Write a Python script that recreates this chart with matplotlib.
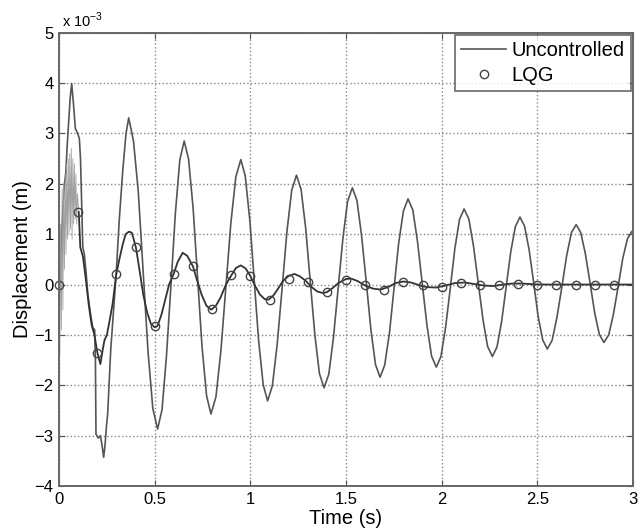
import numpy as np
import matplotlib
matplotlib.use("Agg")
from matplotlib import pyplot as plt

plt.rcParams['font.family'] = ['Liberation Sans', 'DejaVu Sans']

# uncontrolled response (x 1e-3 m)
unc_t = [0.000, 0.010, 0.020, 0.028, 0.035, 0.042, 0.050, 0.058, 0.066, 0.075,
         0.085, 0.097, 0.106, 0.112, 0.118, 0.124, 0.132, 0.142, 0.150, 0.165,
         0.176, 0.186, 0.190, 0.193, 0.205, 0.216, 0.225, 0.233, 0.240, 0.248,
         0.254, 0.270, 0.298, 0.315, 0.333, 0.350, 0.364,
         0.389, 0.414, 0.440, 0.465, 0.490, 0.515,
         0.538, 0.561, 0.585, 0.608, 0.631, 0.654,
         0.677, 0.701, 0.724, 0.747, 0.771, 0.794,
         0.820, 0.846, 0.872, 0.898, 0.924, 0.950,
         0.973, 0.997, 1.020, 1.043, 1.067, 1.090,
         1.115, 1.140, 1.166, 1.191, 1.216, 1.241,
         1.265, 1.289, 1.313, 1.337, 1.361, 1.385,
         1.410, 1.434, 1.459, 1.484, 1.508, 1.533,
         1.557, 1.581, 1.606, 1.630, 1.654, 1.678,
         1.702, 1.727, 1.751, 1.775, 1.800, 1.824,
         1.849, 1.873, 1.898, 1.923, 1.947, 1.972,
         1.996, 2.020, 2.045, 2.069, 2.093, 2.117,
         2.142, 2.166, 2.191, 2.216, 2.240, 2.265,
         2.289, 2.313, 2.337, 2.361, 2.385, 2.409,
         2.433, 2.457, 2.481, 2.504, 2.528, 2.552,
         2.577, 2.602, 2.628, 2.653, 2.678, 2.703,
         2.727, 2.751, 2.776, 2.800, 2.824, 2.848,
         2.873, 2.897, 2.922, 2.946, 2.971, 2.995, 3.000]
unc_v = [0.00, 0.60, 1.50, 2.00, 2.20, 2.73, 3.20, 3.70, 3.99, 3.60,
         3.10, 3.00, 2.90, 2.50, 1.60, 0.75, 0.60, 0.20, -0.18, -0.60,
         -0.85, -0.90, -1.50, -2.97, -3.05, -3.00, -3.20, -3.43, -3.20, -2.80,
         -2.57, -1.30, 0.18, 1.30, 2.27, 3.00, 3.31,
         2.85, 1.85, 0.22, -1.33, -2.46, -2.87,
         -2.49, -1.44, -0.01, 1.42, 2.47, 2.85,
         2.49, 1.50, 0.14, -1.22, -2.21, -2.57,
         -2.23, -1.31, -0.05, 1.22, 2.14, 2.48,
         2.16, 1.28, 0.09, -1.11, -1.99, -2.31,
         -2.01, -1.19, -0.07, 1.05, 1.87, 2.17,
         1.89, 1.12, 0.06, -1.00, -1.77, -2.05,
         -1.78, -1.06, -0.07, 0.93, 1.65, 1.92,
         1.67, 0.98, 0.04, -0.90, -1.59, -1.84,
         -1.60, -0.96, -0.07, 0.82, 1.46, 1.70,
         1.48, 0.87, 0.03, -0.81, -1.42, -1.64,
         -1.43, -0.86, -0.07, 0.72, 1.29, 1.50,
         1.30, 0.77, 0.04, -0.70, -1.23, -1.43,
         -1.24, -0.74, -0.05, 0.65, 1.15, 1.34,
         1.16, 0.69, 0.03, -0.63, -1.10, -1.28,
         -1.11, -0.66, -0.05, 0.57, 1.03, 1.19,
         1.03, 0.61, 0.02, -0.57, -0.99, -1.15,
         -1.00, -0.60, -0.05, 0.51, 0.91, 1.06, 1.06]

# LQG response: noisy start, then smooth decay
lqg_noise_t = [0.000, 0.004, 0.008, 0.012, 0.016, 0.020, 0.024, 0.028, 0.032, 0.036,
               0.040, 0.044, 0.048, 0.052, 0.056, 0.060, 0.064, 0.068, 0.072, 0.076,
               0.080, 0.084, 0.088, 0.092, 0.096, 0.103]
lqg_noise_v = [0.0, -1.4, 1.2, -0.9, 1.9, -0.5, 2.0, 0.3, 2.2, 0.6,
               2.4, 0.9, 2.5, 1.0, 2.6, 1.1, 2.7, 0.9, 2.5, 1.2,
               2.4, 1.3, 2.2, 1.2, 1.8, 1.44]

lqg_t = [0.103, 0.111, 0.125, 0.140, 0.155, 0.170, 0.185, 0.200, 0.216, 0.228,
         0.237, 0.250, 0.265, 0.280, 0.298, 0.315, 0.333, 0.348, 0.365, 0.380,
         0.390, 0.402, 0.420, 0.440, 0.460, 0.480, 0.500, 0.515, 0.535, 0.555,
         0.575, 0.600, 0.620, 0.646, 0.670, 0.700, 0.720, 0.745, 0.770, 0.795,
         0.820, 0.845, 0.870, 0.900, 0.925, 0.950, 0.975, 1.000, 1.025, 1.050,
         1.075, 1.095, 1.120, 1.145, 1.170, 1.200, 1.230, 1.260, 1.290, 1.320,
         1.350, 1.380, 1.400, 1.430, 1.460, 1.500, 1.525, 1.560, 1.600, 1.640,
         1.680, 1.720, 1.760, 1.800, 1.840, 1.880, 1.920, 1.970, 2.020, 2.070,
         2.120, 2.170, 2.220, 2.270, 2.320, 2.370, 2.420, 2.500, 2.600, 3.000]
lqg_v = [1.44, 0.74, 0.55, 0.10, -0.40, -0.80, -1.00, -1.35, -1.58, -1.30,
         -1.11, -1.00, -0.70, -0.38, 0.18, 0.50, 0.80, 1.00, 1.05, 1.03,
         0.90, 0.73, 0.30, -0.20, -0.55, -0.78, -0.85, -0.82, -0.60, -0.30,
         0.00, 0.22, 0.45, 0.63, 0.57, 0.36, 0.10, -0.20, -0.42, -0.50,
         -0.42, -0.25, -0.02, 0.18, 0.33, 0.38, 0.32, 0.17, -0.03, -0.20,
         -0.29, -0.30, -0.22, -0.08, 0.07, 0.17, 0.21, 0.16, 0.07, -0.05,
         -0.14, -0.17, -0.15, -0.07, 0.03, 0.11, 0.12, 0.07, -0.02, -0.08,
         -0.10, -0.05, 0.03, 0.06, 0.04, -0.01, -0.05, -0.06, -0.02, 0.03,
         0.04, 0.01, -0.02, -0.03, 0.00, 0.02, 0.02, 0.00, 0.00, 0.00]

# circle markers every 0.1 s
mark_t = [0.0, 0.1, 0.2, 0.3, 0.4, 0.5, 0.6, 0.7, 0.8, 0.9,
          1.0, 1.1, 1.2, 1.3, 1.4, 1.5, 1.6, 1.7, 1.8, 1.9,
          2.0, 2.1, 2.2, 2.3, 2.4, 2.5, 2.6, 2.7, 2.8, 2.9]
mark_v = [0.0, 1.45, -1.35, 0.20, 0.75, -0.82, 0.20, 0.36, -0.48, 0.18,
          0.17, -0.30, 0.11, 0.06, -0.15, 0.09, 0.00, -0.10, 0.06, 0.00,
          -0.04, 0.04, 0.00, -0.01, 0.02, 0.00, 0.00, 0.00, 0.00, 0.00]

xticks = [0, 0.5, 1, 1.5, 2, 2.5, 3]
xticklabels = ['0', '0.5', '1', '1.5', '2', '2.5', '3']
yticks = [-4, -3, -2, -1, 0, 1, 2, 3, 4, 5]

fig = plt.figure(figsize=(6.42, 5.32), dpi=100)
ax = fig.add_axes([0.092, 0.0865, 0.894, 0.852])

ax.plot(unc_t, unc_v, color='#555555', lw=1.2, label='Uncontrolled')
ax.plot(lqg_noise_t, lqg_noise_v, color='#a0a0a0', lw=0.6)
ax.plot(lqg_t, lqg_v, color='#333333', lw=1.3)
ax.plot(mark_t, mark_v, ls='none', marker='o', ms=6, mfc='none', mec='#444444',
        mew=1.0, label='LQG', clip_on=False)

ax.set_xlim(0, 3)
ax.set_ylim(-4, 5)
ax.set_xticks(xticks)
ax.set_xticklabels(xticklabels)
ax.set_yticks(yticks)
ax.tick_params(direction='in', top=True, right=True, labelsize=12, length=4,
               color='#555555', pad=4)
ax.grid(True, ls=':', color='#888888', lw=1.0)
for s in ax.spines.values():
    s.set_color('#666666')
    s.set_linewidth(1.4)

ax.set_xlabel('Time (s)', fontsize=14.5, labelpad=2)
ax.set_ylabel('Displacement (m)', fontsize=14.5, labelpad=2)
ax.text(0.005, 1.006, r'x 10$^{\mathregular{-3}}$', transform=ax.transAxes,
        fontsize=10.5, ha='left', va='bottom')

leg = ax.legend(loc='upper right', fontsize=14.5, frameon=True, fancybox=False,
                borderaxespad=0.1, handlelength=2.2, handletextpad=0.3,
                borderpad=0.3, labelspacing=0.3)
leg.get_frame().set_edgecolor('#444444')
leg.get_frame().set_linewidth(1.2)

fig.savefig('out.png', dpi=100)
